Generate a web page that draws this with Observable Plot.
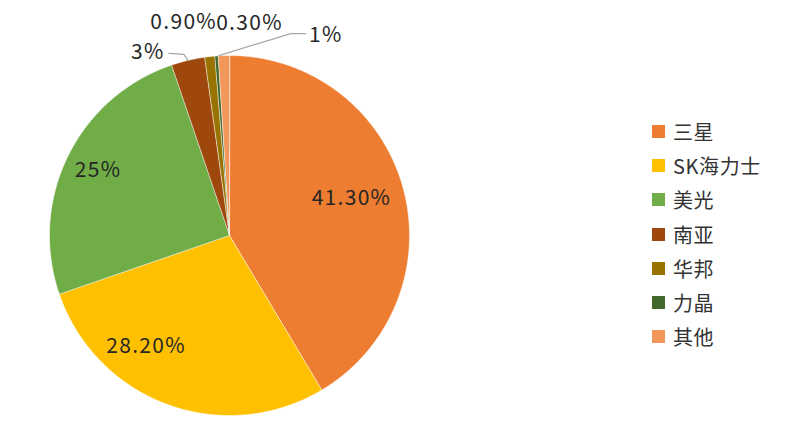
<!DOCTYPE html>
<html>
<head>
<meta charset="utf-8">
<script src="https://cdn.jsdelivr.net/npm/d3@7"></script>
<script src="https://cdn.jsdelivr.net/npm/@observablehq/plot@0.6"></script>
<style>
  body { margin: 0; background: #fff; }
  #wrap { position: relative; width: 806px; height: 426px; font-family: "Noto Sans CJK SC", "Noto Sans", sans-serif; }
  #legend { position: absolute; left: 652px; top: 114px; }
  .row { display: flex; align-items: center; height: 34.3px; font-size: 20px; color: #333; letter-spacing: 0.6px; }
  .sw { width: 13px; height: 13px; margin-right: 8px; }
</style>
</head>
<body>
<div id="wrap"></div>
<script>
// ---- data ----
const names  = ["三星", "SK海力士", "美光", "南亚", "华邦", "力晶", "其他"];
const shares = [41.3, 28.2, 25, 3, 0.9, 0.3, 1];
const labels = ["41.30%", "28.20%", "25%", "3%", "0.90%", "0.30%", "1%"];
const colors = ["#ED7D31", "#FFC000", "#70AD47", "#9E480E", "#997300", "#43682B", "#F1975A"];

// ---- layout (pixels) ----
const W = 806, H = 426, CX = 229, CY = 235, R = 180;
const labelRadius = {0: 0.72, 1: 0.72, 2: 0.72, 3: 1, 4: 1, 5: 1, 6: 1};
const labelNudge = {0: [-3, -3], 1: [-39, -11], 2: [-15, -8], 3: [-40, -8], 4: [-26, -34], 5: [33, -33], 6: [102, -20]};
const leaderOffsets = {3: [[0, 0], [-4, -6], [-19, -7]], 6: [[-5, 0], [67, -22], [82, -22]]};

const pie = d3.pie().sort(null).value(d => d)(shares);
const pt = (a, r) => [CX + r * Math.sin(a), CY - r * Math.cos(a)];

const polys = [];
pie.forEach((s, i) => {
  const n = Math.max(2, Math.ceil((s.endAngle - s.startAngle) / 0.01));
  polys.push({name: names[i], x: CX, y: CY});
  for (let k = 0; k <= n; k++) {
    const a = s.startAngle + (s.endAngle - s.startAngle) * k / n;
    const [x, y] = pt(a, R);
    polys.push({name: names[i], x, y});
  }
});

const textData = pie.map((s, i) => {
  const mid = (s.startAngle + s.endAngle) / 2;
  const [x, y] = pt(mid, R * labelRadius[i]);
  return {label: labels[i], x: x + labelNudge[i][0], y: y + labelNudge[i][1]};
});

const leaders = [];
Object.entries(leaderOffsets).forEach(([i, offs]) => {
  const s = pie[+i];
  const [ex, ey] = pt((s.startAngle + s.endAngle) / 2, R);
  offs.forEach(([dx, dy]) => leaders.push({id: i, x: ex + dx, y: ey + dy}));
});

const chart = Plot.plot({
  width: W, height: H,
  margin: 0,
  x: {domain: [0, W], range: [0, W], axis: null},
  y: {domain: [0, H], range: [0, H], axis: null},
  color: {domain: names, range: colors},
  style: {fontFamily: '"Noto Sans CJK SC", "Noto Sans", sans-serif', background: "#fff"},
  marks: [
    Plot.line(polys, {x: "x", y: "y", z: "name", fill: "name", stroke: "#fff", strokeWidth: 0.5, curve: "linear-closed"}),
    Plot.line(leaders, {x: "x", y: "y", z: "id", stroke: "#a6a6a6", strokeWidth: 1.2}),
    Plot.text(textData, {x: "x", y: "y", text: "label", fontSize: 21, fill: "#262626"})
  ]
});
d3.select(chart).selectAll("text").attr("letter-spacing", "1.3px");

const wrap = document.getElementById("wrap");
wrap.appendChild(chart);
const legend = document.createElement("div");
legend.id = "legend";
names.forEach((n, i) => {
  const row = document.createElement("div");
  row.className = "row";
  row.innerHTML = `<span class="sw" style="background:${colors[i]}"></span><span>${n}</span>`;
  legend.appendChild(row);
});
wrap.appendChild(legend);
</script>
</body>
</html>
